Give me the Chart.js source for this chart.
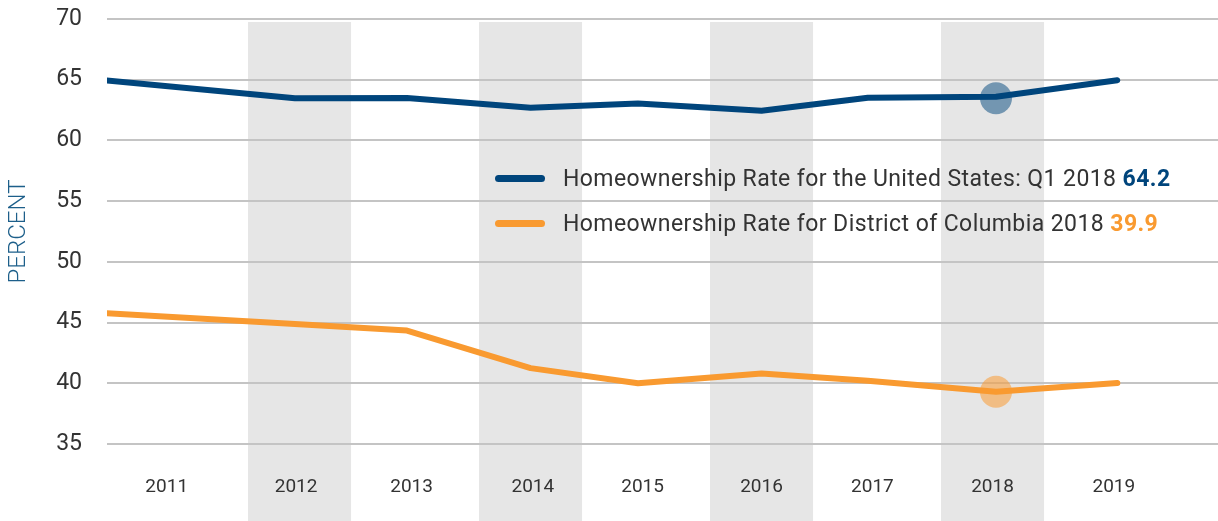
<!DOCTYPE html>
<html lang="en">
<head>
<meta charset="UTF-8">
<title>Homeownership Rate</title>
<script src="https://cdn.jsdelivr.net/npm/chart.js@4.4.1/dist/chart.umd.min.js"></script>
<style>
  body { margin: 0; background: #fff; overflow: hidden; }
  #wrap { position: relative; width: 1218px; height: 521px; }
  #myChart { display: block; }
  #legend { position: absolute; left: 495px; top: 156px; font-family: Roboto, sans-serif; font-size: 23px; letter-spacing: 0.42px; color: #333; }
  #legend .row { display: flex; align-items: center; height: 45px; white-space: nowrap; }
  #legend .sw { width: 50px; height: 7px; border-radius: 4px; margin-right: 18px; }
  #legend b { font-weight: 700; }
</style>
</head>
<body>
<div id="wrap">
  <canvas id="myChart" width="1218" height="521"></canvas>
  <div id="legend">
    <div class="row"><span class="sw" style="background:#00457c"></span><span>Homeownership Rate for the United States: Q1 2018 <b style="color:#00457c">64.2</b></span></div>
    <div class="row"><span class="sw" style="background:#f99a30"></span><span>Homeownership Rate for District of Columbia 2018 <b style="color:#f99a30">39.9</b></span></div>
  </div>
</div>
<script>
// year labels and where they sit on the time axis
const tickLabels = ['2011','2012','2013','2014','2015','2016','2017','2018','2019'];
const tickPos = [2010.85, 2011.97, 2012.97, 2014.02, 2014.97, 2016.0, 2016.96, 2018.0, 2019.05];

const obsX = [2010.33, 2011.96, 2012.93, 2014.0, 2014.93, 2016.0, 2016.92, 2018.03, 2019.08];
const usRate = [64.93, 63.47, 63.5, 62.7, 63.05, 62.45, 63.52, 63.6, 64.95];
const dcRate = [45.76, 44.88, 44.34, 41.25, 40.0, 40.8, 40.2, 39.3, 40.02];

// highlighted 2018 points
const hlX = [2018.03];
const usHl = [63.47];
const dcHl = [39.3];

// shaded years
const bandYears = [2012, 2014, 2016, 2018];

const NAVY = '#00457c';
const ORANGE = '#f99a30';

function pts(xs, ys) {
    return xs.map((x, i) => ({x: x, y: ys[i]}));
}

// gray column behind every other year
const bands = {
    id: 'bands',
    beforeDraw(chart) {
        const c = chart.ctx, xs = chart.scales.x, ys = chart.scales.y;
        const top = ys.getPixelForValue(69.75);
        c.save();
        c.fillStyle = '#e6e6e6';
        bandYears.forEach(yr => {
            const x0 = xs.getPixelForValue(yr - 0.446);
            const x1 = xs.getPixelForValue(yr + 0.446);
            c.fillRect(x0, top, x1 - x0, chart.height - top);
        });
        c.restore();
    }
};

const ctx = document.getElementById('myChart').getContext('2d');
new Chart(ctx, {
    type: 'line',
    data: {
        datasets: [
            {data: pts(obsX, usRate), borderColor: NAVY, borderWidth: 6, pointRadius: 0,
             borderCapStyle: 'round', borderJoinStyle: 'round', tension: 0},
            {data: pts(obsX, dcRate), borderColor: ORANGE, borderWidth: 6, pointRadius: 0,
             borderCapStyle: 'round', borderJoinStyle: 'round', tension: 0},
            {data: pts(hlX, usHl), showLine: false, pointRadius: 16, borderWidth: 0,
             backgroundColor: 'rgba(0,69,124,0.5)'},
            {data: pts(hlX, dcHl), showLine: false, pointRadius: 16, borderWidth: 0,
             backgroundColor: 'rgba(249,154,48,0.54)'}
        ]
    },
    options: {
        responsive: false,
        animation: false,
        layout: {autoPadding: false, padding: {top: 19, right: 0, left: 0, bottom: 0}},
        plugins: {legend: {display: false}, tooltip: {enabled: false}},
        scales: {
            x: {
                type: 'linear',
                min: 2010.333,
                max: 2019.952,
                grid: {display: false, drawTicks: false},
                border: {display: false},
                afterBuildTicks: s => { s.ticks = tickPos.map(v => ({value: v})); },
                afterFit: s => { s.height = 77; s.paddingLeft = 0; s.paddingRight = 0; },
                ticks: {
                    autoSkip: false,
                    maxRotation: 0,
                    padding: 32,
                    color: '#333',
                    font: {family: 'Roboto', size: 19},
                    callback: (v, i) => tickLabels[i]
                }
            },
            y: {
                min: 35,
                max: 70,
                grid: {color: '#c4c4c4', lineWidth: 2, drawTicks: false},
                border: {display: false},
                afterFit: s => { s.width = 107; s.paddingTop = 0; s.paddingBottom = 0; },
                ticks: {
                    stepSize: 5,
                    padding: 25,
                    color: '#333',
                    font: {family: 'Roboto', size: 23}
                },
                title: {
                    display: true,
                    text: 'PERCENT',
                    color: '#1d5f8a',
                    font: {family: 'Roboto', size: 24, weight: 300},
                    padding: {top: 5, bottom: 0}
                }
            }
        }
    },
    plugins: [bands]
});
</script>
</body>
</html>
